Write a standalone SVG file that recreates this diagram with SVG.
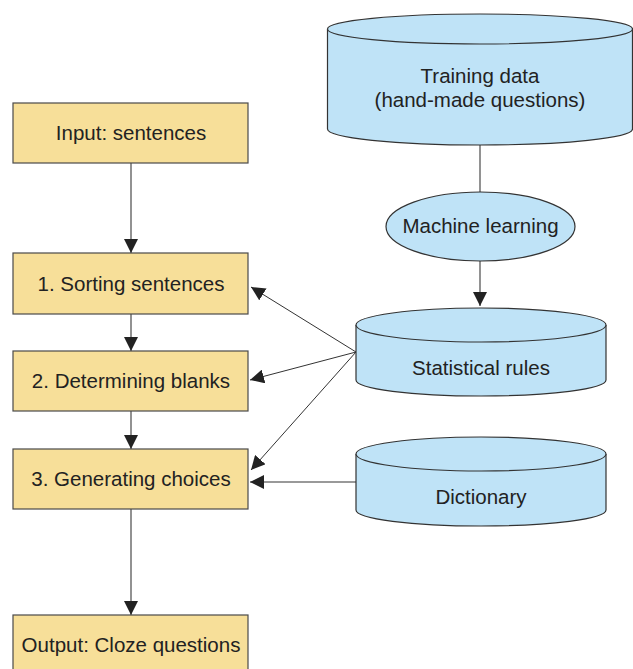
<svg xmlns="http://www.w3.org/2000/svg" width="633" height="669" viewBox="0 0 633 669">
  <style>
    .box { fill: #f7df99; stroke: #4a4a4a; stroke-width: 1.2; }
    .db { fill: #bfe3f7; stroke: #333; stroke-width: 1.2; }
    .lbl { font-family: "Liberation Sans", Arial, sans-serif; font-size: 20.5px; fill: #222; text-anchor: middle; }
    .flow { stroke: #777; stroke-width: 1.6; fill: none; }
    .thin { stroke: #333; stroke-width: 1; fill: none; }
  </style>
  <defs>
    <marker id="ah" viewBox="0 0 10 10" refX="10" refY="5" markerWidth="14" markerHeight="14" markerUnits="userSpaceOnUse" orient="auto">
      <path d="M0,0 L10,5 L0,10 Z" fill="#222"/>
    </marker>
  </defs>

  <!-- connectors -->
  <g id="connectors">
    <line class="flow" x1="131" y1="163" x2="131" y2="253" marker-end="url(#ah)"/>
    <line class="flow" x1="131" y1="314" x2="131" y2="351" marker-end="url(#ah)"/>
    <line class="flow" x1="131" y1="411" x2="131" y2="449" marker-end="url(#ah)"/>
    <line class="flow" x1="131" y1="509" x2="131" y2="615" marker-end="url(#ah)"/>
    <line class="flow" x1="480" y1="145" x2="480" y2="192"/>
    <line class="flow" x1="480" y1="261" x2="480" y2="306" marker-end="url(#ah)"/>
    <line class="thin" x1="356" y1="352" x2="251" y2="287" marker-end="url(#ah)"/>
    <line class="thin" x1="356" y1="352" x2="250" y2="380" marker-end="url(#ah)"/>
    <line class="thin" x1="356" y1="352" x2="251" y2="470" marker-end="url(#ah)"/>
    <line class="flow" x1="356" y1="482" x2="250" y2="482" marker-end="url(#ah)"/>
  </g>

  <g id="input">
    <rect class="box" x="13" y="103" width="235" height="60"/>
    <text class="lbl" x="131" y="140">Input: sentences</text>
  </g>
  <g id="sorting">
    <rect class="box" x="13" y="253" width="235" height="61"/>
    <text class="lbl" x="131" y="291">1. Sorting sentences</text>
  </g>
  <g id="blanks">
    <rect class="box" x="13" y="351" width="235" height="60"/>
    <text class="lbl" x="131" y="388">2. Determining blanks</text>
  </g>
  <g id="choices">
    <rect class="box" x="13" y="449" width="235" height="60"/>
    <text class="lbl" x="131" y="486">3. Generating choices</text>
  </g>
  <g id="output">
    <rect class="box" x="13" y="615" width="235" height="60"/>
    <text class="lbl" x="131" y="652">Output: Cloze questions</text>
  </g>

  <g id="training-data">
    <path class="db" d="M327.5,29 L327.5,129 A152.5,16 0 0 0 632.5,129 L632.5,29 A152.5,15 0 0 0 327.5,29 Z"/>
    <path class="db" fill="none" d="M327.5,29 A152.5,15 0 0 0 632.5,29"/>
    <text class="lbl" x="480" y="83">Training data</text>
    <text class="lbl" x="480" y="107">(hand-made questions)</text>
  </g>

  <g id="machine-learning">
    <ellipse class="db" cx="480.5" cy="226.5" rx="94.5" ry="34.5"/>
    <text class="lbl" x="480.5" y="233">Machine learning</text>
  </g>

  <g id="statistical-rules">
    <path class="db" d="M356,325 L356,380 A125,16 0 0 0 606,380 L606,325 A125,17 0 0 0 356,325 Z"/>
    <path class="db" fill="none" d="M356,325 A125,17 0 0 0 606,325"/>
    <text class="lbl" x="481" y="375">Statistical rules</text>
  </g>

  <g id="dictionary">
    <path class="db" d="M356,454 L356,510 A125,16 0 0 0 606,510 L606,454 A125,17 0 0 0 356,454 Z"/>
    <path class="db" fill="none" d="M356,454 A125,17 0 0 0 606,454"/>
    <text class="lbl" x="481" y="504">Dictionary</text>
  </g>
</svg>
